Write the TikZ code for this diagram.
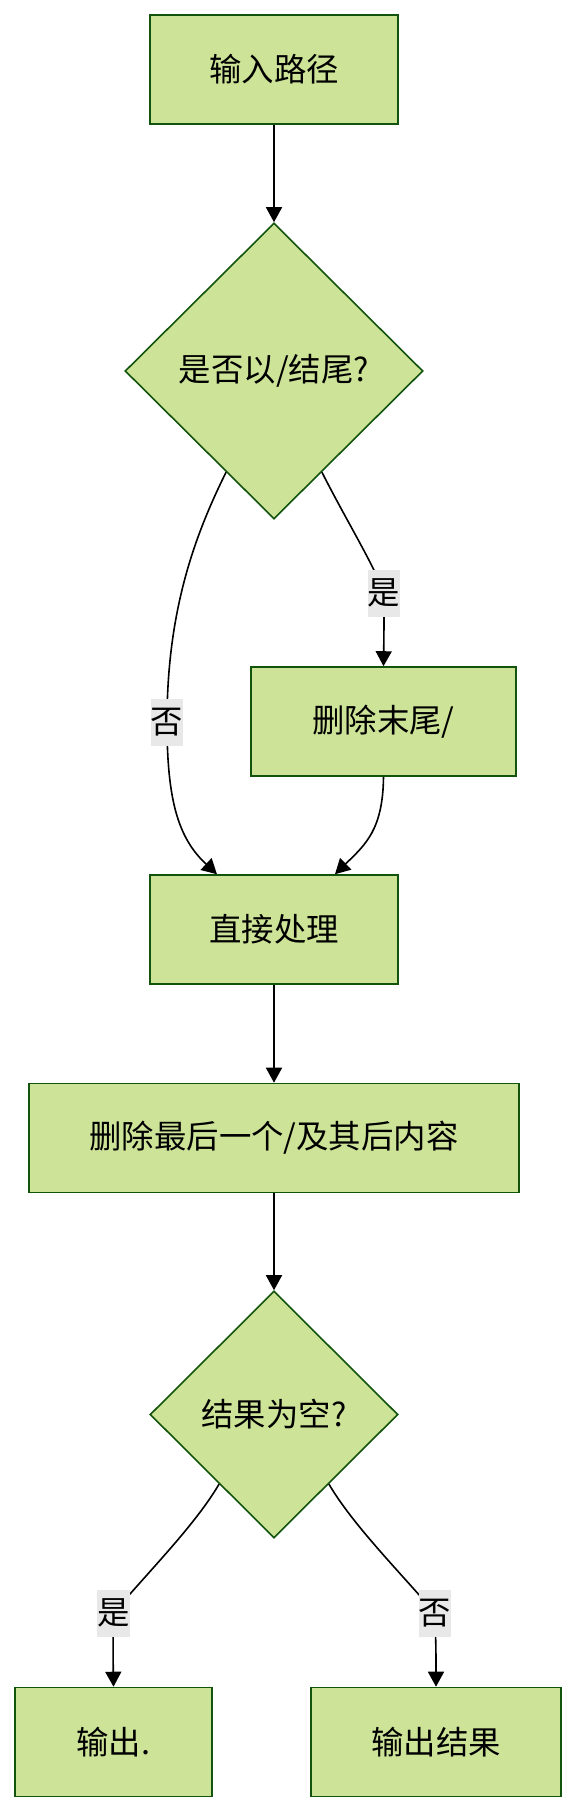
\documentclass[tikz,border=0pt]{standalone}
\usepackage{fontspec}
\newfontfamily\cjk{Noto Sans CJK SC}
\usetikzlibrary{shapes.geometric,arrows.meta,calc}
\definecolor{boxfill}{HTML}{CDE498}
\definecolor{boxline}{HTML}{13540C}
\definecolor{lblbg}{HTML}{E8E8E8}
\newcommand{\txtfont}{\cjk\fontsize{16.2pt}{19.5pt}\selectfont}
\begin{document}
\begin{tikzpicture}[x=0.5pt,y=-0.5pt,
  proc/.style={draw=boxline, fill=boxfill, line width=0.8pt, rectangle, inner sep=0pt, font=\txtfont, minimum height=54.5pt},
  dec/.style={draw=boxline, fill=boxfill, line width=0.8pt, diamond, aspect=1, inner sep=0pt, font=\txtfont},
  lbl/.style={fill=lblbg, inner sep=0pt, minimum width=15.5pt, minimum height=23.5pt, font=\txtfont},
  edge/.style={draw=black, line width=0.8pt, -{Triangle[length=7.5pt,width=8pt]}}]
\path[use as bounding box] (0,0) rectangle (575,1812);

\node[proc, minimum width=124pt] (n1) at (274,69.5) {输入路径};
\node[dec, minimum width=149pt, minimum height=148pt] (d1) at (274,371) {是否以/结尾?};
\node[proc, minimum width=132.5pt] (n2) at (383.5,721.5) {删除末尾/};
\node[proc, minimum width=124pt] (n3) at (274,929.5) {直接处理};
\node[proc, minimum width=245pt] (n4) at (274,1138) {删除最后一个/及其后内容};
\node[dec, minimum width=124pt, minimum height=123.5pt] (d2) at (274,1414.5) {结果为空?};
\node[proc, minimum width=98.5pt] (n5) at (113.5,1742) {输出.};
\node[proc, minimum width=125pt] (n6) at (436,1742) {输出结果};

\coordinate (s1) at ($(d1.south)!0.32!(d1.east)$);
\coordinate (s2) at ($(d1.south)!0.32!(d1.west)$);
\coordinate (s3) at ($(d2.south)!0.44!(d2.west)$);
\coordinate (s4) at ($(d2.south)!0.44!(d2.east)$);
\coordinate (l1) at (384,593);
\coordinate (l2) at (167,722);
\coordinate (l3) at (113.5,1613);
\coordinate (l4) at (435,1613);
\coordinate (t1) at ($(n3.north)+(-57,0)$);
\coordinate (t2) at ($(n3.north)+(61,0)$);

\draw[edge] (n1.south) -- (d1.north);
\draw[edge] (s1) .. controls (345,518) and (374,565) .. (l1) node[lbl] {是}
  .. controls (384,630) .. (n2.north);
\draw[edge] (s2) .. controls (195,535) and (167,610) .. (l2) node[lbl] {否}
  .. controls (167,800) and (178,838) .. (t1);
\draw[edge] (n2.south) .. controls (383,830) and (365,845) .. (t2);
\draw[edge] (n3.south) -- (n4.north);
\draw[edge] (n4.south) -- (d2.north);
\draw[edge] (s3) .. controls (195,1525) and (150,1570) .. (l3) node[lbl] {是}
  .. controls (113,1650) .. (n5.north);
\draw[edge] (s4) .. controls (353,1525) and (398,1570) .. (l4) node[lbl] {否}
  .. controls (436,1650) .. (n6.north);
\end{tikzpicture}
\end{document}
